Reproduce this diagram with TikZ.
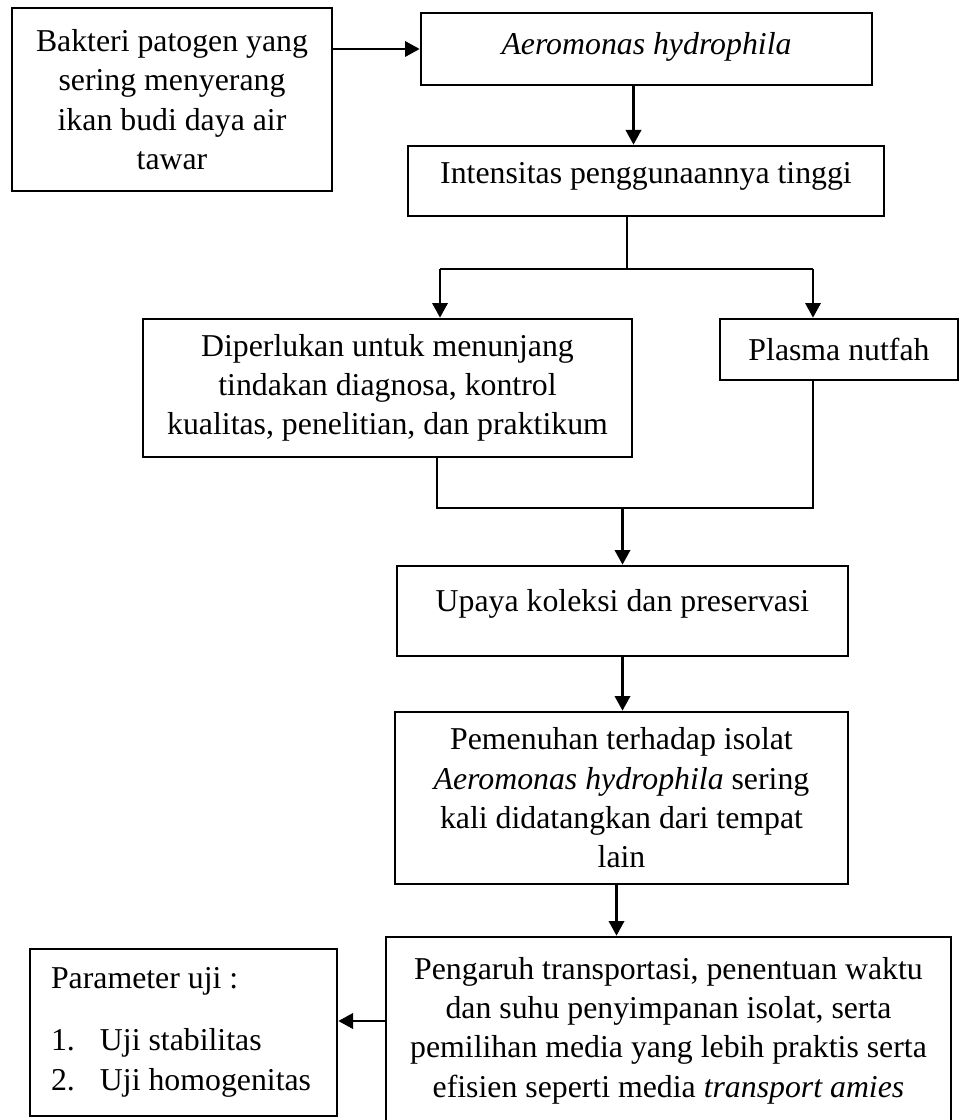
\documentclass[tikz,border=0pt]{standalone}
\usepackage{fontspec}
\setmainfont{Liberation Serif}
\usetikzlibrary{arrows.meta,calc}

\tikzset{every picture/.style={line width=0.75pt}}
\tikzset{
  kotak/.style={draw, line width=2pt, align=center, inner sep=0pt, font=\fontsize{23.85pt}{29.5pt}\selectfont},
  panah/.style={line width=1.9pt, -{Triangle[length=11pt,width=11.5pt]}},
  garis/.style={line width=0.8pt}
}

\begin{document}
\begin{tikzpicture}[x=0.75pt,y=0.75pt,yscale=-1,xscale=1]
\useasboundingbox (0,0) rectangle (962,1120);

%Shape: Rectangle [bakteri]
\node[kotak, minimum width=240pt, minimum height=137.25pt] (bakteri) at (172,99.5) {Bakteri patogen yang\\ sering menyerang\\ ikan budi daya air\\ tawar};
%Shape: Rectangle [aeromonas]
\node[kotak, minimum width=338.25pt, minimum height=54pt, text height=16.3pt, text depth=8pt] (aeromonas) at (646.5,49) {\textit{Aeromonas hydrophila}};
%Shape: Rectangle [intensitas]
\node[kotak, minimum width=357pt, minimum height=52.5pt, text height=16.3pt, text depth=13.3pt] (intensitas) at (646,181) {Intensitas penggunaannya tinggi};
%Shape: Rectangle [diperlukan]
\node[kotak, minimum width=366.75pt, minimum height=103.5pt] (diperlukan) at (387.5,388) {Diperlukan untuk menunjang\\ tindakan diagnosa, kontrol\\ kualitas, penelitian, dan praktikum};
%Shape: Rectangle [plasma]
\node[kotak, minimum width=178.5pt, minimum height=45.75pt] (plasma) at (839,349.5) {Plasma nutfah};
%Shape: Rectangle [upaya]
\node[kotak, minimum width=338.25pt, minimum height=67.5pt, text height=16.3pt, text depth=16.3pt] (upaya) at (622.5,611) {Upaya koleksi dan preservasi};
%Shape: Rectangle [pemenuhan]
\node[kotak, minimum width=339.75pt, minimum height=129pt] (pemenuhan) at (621.5,798) {Pemenuhan terhadap isolat\\ \textit{Aeromonas hydrophila} sering\\ kali didatangkan dari tempat\\ lain};
%Shape: Rectangle [pengaruh]
\node[kotak, minimum width=423.75pt, minimum height=140.25pt] (pengaruh) at (668.5,1030.5) {Pengaruh transportasi, penentuan waktu\\ dan suhu penyimpanan isolat, serta\\ pemilihan media yang lebih praktis serta\\ efisien seperti media \textit{transport amies}};
%Shape: Rectangle [parameter]
\node[kotak, align=flush left, text width=198.75pt, inner xsep=15.75pt, minimum height=125.25pt] (parameter) at (183.5,1032.5) {Parameter uji :\\[17pt] \makebox[36.75pt][l]{1.}Uji stabilitas\\ \makebox[36.75pt][l]{2.}Uji homogenitas};

%Straight Lines [cabang]
\coordinate (simpul1) at (627,269);
\coordinate (kiri1) at (440,269);
\coordinate (kanan1) at (813,269);
\coordinate (kiri2) at (437,508);
\coordinate (kanan2) at (813,508);
\coordinate (ab) at ($(aeromonas.south)+(-13,0)$);
\coordinate (pg) at ($(pemenuhan.south)+(-5,0)$);
\coordinate (gp) at ($(pengaruh.west)+(0,-9.5)$);

\draw[panah] (bakteri.east |- aeromonas.west) -- (aeromonas.west);
\draw[panah] (ab) -- (ab |- intensitas.north);
\draw[garis] (intensitas.south -| simpul1) -- (simpul1);
\draw[garis] (kiri1) -- (kanan1);
\draw[panah] (kiri1) -- (kiri1 |- diperlukan.north);
\draw[panah] (kanan1) -- (kanan1 |- plasma.north);
\draw[garis] (kiri2 |- diperlukan.south) -- (kiri2) -- (kanan2) -- (kanan2 |- plasma.south);
\draw[panah] (upaya.north |- kiri2) -- (upaya.north);
\draw[panah] (upaya.south) -- (upaya.south |- pemenuhan.north);
\draw[panah] (pg) -- (pg |- pengaruh.north);
\draw[panah] (gp) -- (gp -| parameter.east);

\end{tikzpicture}
\end{document}
